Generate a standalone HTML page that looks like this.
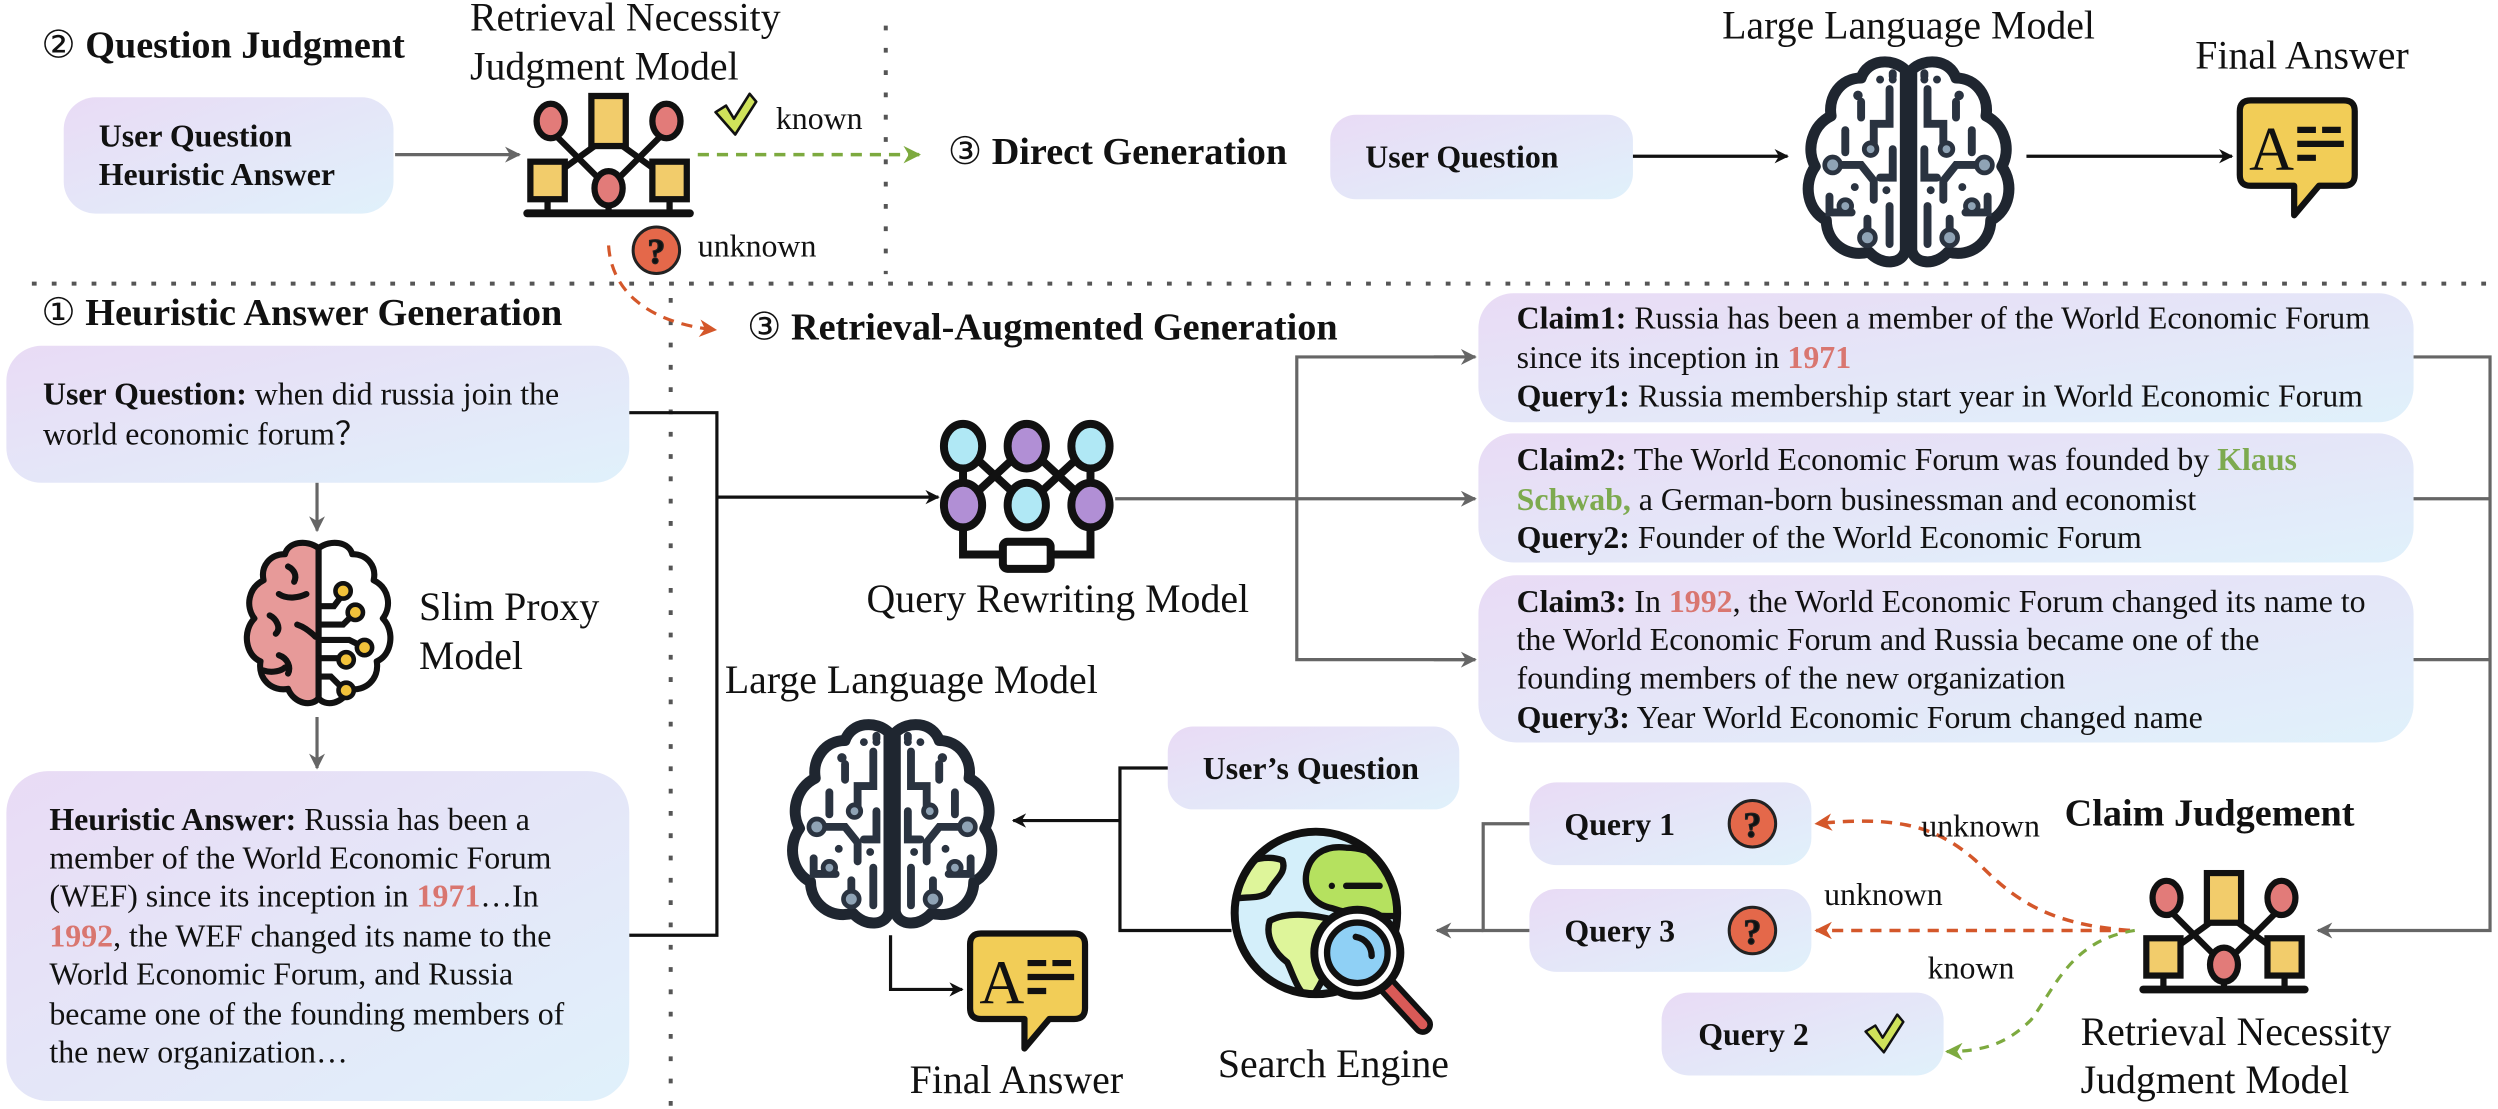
<!DOCTYPE html>
<html><head><meta charset="utf-8">
<style>
html,body{margin:0;padding:0;background:#fff;}
svg{display:block;}
text{font-family:"Liberation Serif","DejaVu Serif",serif;fill:#111;}
.b{font-weight:bold;}
.h{font-size:24px;font-weight:bold;}
.l{font-size:25px;}
.t{font-size:20px;}
.sym{font-family:"DejaVu Sans","Liberation Sans",sans-serif;}
</style></head>
<body>
<svg width="2498" height="1109" viewBox="0 0 1568 696" xmlns="http://www.w3.org/2000/svg">
<defs>
<linearGradient id="g" x1="0" y1="0" x2="1" y2="1">
<stop offset="0" stop-color="#e9dbf5"/><stop offset="1" stop-color="#e0f1fb"/>
</linearGradient>
<marker id="ab" viewBox="0 0 10 10" refX="9" refY="5" markerWidth="9" markerHeight="9" markerUnits="userSpaceOnUse" orient="auto"><path d="M0,0 L10,5 L0,10 L3,5 Z" fill="#111"/></marker>
<marker id="ag" viewBox="0 0 10 10" refX="9" refY="5" markerWidth="10" markerHeight="10" markerUnits="userSpaceOnUse" orient="auto"><path d="M0,0 L10,5 L0,10 L3,5 Z" fill="#666"/></marker>
<marker id="ao" viewBox="0 0 10 10" refX="9" refY="5" markerWidth="11" markerHeight="11" markerUnits="userSpaceOnUse" orient="auto"><path d="M0,0 L10,5 L0,10 L3,5 Z" fill="#d4572a"/></marker>
<marker id="agr" viewBox="0 0 10 10" refX="9" refY="5" markerWidth="11" markerHeight="11" markerUnits="userSpaceOnUse" orient="auto"><path d="M0,0 L10,5 L0,10 L3,5 Z" fill="#7daa3f"/></marker>

<symbol id="judge" viewBox="0 0 110 80">
<g stroke="#111" stroke-width="4" stroke-linecap="round">
<line x1="22" y1="28" x2="50" y2="56"/><line x1="88" y1="28" x2="60" y2="56"/>
<line x1="46" y1="34" x2="24" y2="50"/><line x1="64" y1="34" x2="86" y2="50"/>
<line x1="16" y1="66" x2="16" y2="77"/><line x1="55" y1="72" x2="55" y2="77"/><line x1="94" y1="66" x2="94" y2="77"/>
<line x1="3" y1="77" x2="107" y2="77" stroke-width="5"/>
<ellipse cx="18" cy="18" rx="9" ry="11" fill="#e27b79"/>
<rect x="44" y="2" width="22" height="32" fill="#f2cc6b"/>
<ellipse cx="92" cy="18" rx="9" ry="11" fill="#e27b79"/>
<rect x="5" y="44" width="22" height="24" fill="#f2cc6b"/>
<ellipse cx="55" cy="61" rx="9" ry="11" fill="#e27b79"/>
<rect x="83" y="44" width="22" height="24" fill="#f2cc6b"/>
</g></symbol>

<symbol id="rewrite" viewBox="0 0 110 100">
<g stroke="#111" stroke-width="5" stroke-linecap="round">
<line x1="15" y1="18" x2="15" y2="55"/><line x1="95" y1="18" x2="95" y2="55"/>
<line x1="15" y1="18" x2="55" y2="55"/><line x1="55" y1="18" x2="15" y2="55"/>
<line x1="55" y1="18" x2="95" y2="55"/><line x1="95" y1="18" x2="55" y2="55"/>
<path d="M15,68 V86 H40 M70,86 H95 V68" fill="none"/>
<ellipse cx="15" cy="18" rx="12" ry="14" fill="#b0e8f5"/>
<ellipse cx="55" cy="18" rx="12" ry="14" fill="#b18fd5"/>
<ellipse cx="95" cy="18" rx="12" ry="14" fill="#b0e8f5"/>
<ellipse cx="15" cy="55" rx="12" ry="14" fill="#b18fd5"/>
<ellipse cx="55" cy="55" rx="12" ry="14" fill="#b0e8f5"/>
<ellipse cx="95" cy="55" rx="12" ry="14" fill="#b18fd5"/>
<rect x="40" y="78" width="30" height="17" rx="3" fill="#fff"/>
</g></symbol>

<symbol id="brain" viewBox="0 0 140 136">
<g id="half">
<path d="M68,10 C60,2 44,3 40,15 C27,15 19,27 21,39 C9,45 5,60 11,71 C3,82 6,99 18,105 C18,119 31,129 45,125 C53,134 66,133 68,124 Z" fill="#fff" stroke="#1f2630" stroke-width="7" stroke-linejoin="round"/>
<g stroke="#2a3340" stroke-width="5" fill="none" stroke-linecap="round">
<path d="M58,22 V44 H48 V58"/><path d="M40,30 V40"/><path d="M30,48 V62"/>
<path d="M22,70 H40 L48,80 V92"/><path d="M60,60 V78 H52"/><path d="M20,90 V100 H34"/>
<path d="M58,96 V120"/><path d="M44,104 V116"/><path d="M60,14 V12"/>
</g>
<g fill="#8fa3b5" stroke="#2a3340" stroke-width="3">
<circle cx="22" cy="70" r="5"/><circle cx="30" cy="96" r="4"/><circle cx="44" cy="116" r="5"/><circle cx="46" cy="60" r="4"/>
</g>
<g fill="#2a3340"><circle cx="52" cy="16" r="2.5"/><circle cx="60" cy="16" r="2.5"/><circle cx="38" cy="26" r="3"/><circle cx="56" cy="86" r="2.5"/><circle cx="36" cy="84" r="2.5"/></g>
</g>
<use href="#half" transform="translate(140,0) scale(-1,1)"/>
</symbol>

<symbol id="pbrain" viewBox="0 0 100 112">
<path d="M50,6 C42,0 30,2 28,10 C18,10 12,18 14,27 C4,32 2,44 8,52 C0,60 2,76 12,80 C10,92 20,100 30,98 C34,108 46,110 50,104 Z" fill="#e79a99" stroke="#111" stroke-width="4" stroke-linejoin="round"/>
<path d="M50,6 C58,0 70,2 72,10 C82,10 88,18 86,27 C96,32 98,44 92,52 C100,60 98,76 88,80 C90,92 80,100 70,98 C66,108 54,110 50,104 Z" fill="#fff" stroke="#111" stroke-width="4" stroke-linejoin="round"/>
<line x1="50" y1="6" x2="50" y2="106" stroke="#111" stroke-width="3.5"/>
<g stroke="#111" stroke-width="4" fill="none" stroke-linecap="round">
<path d="M30,18 C34,20 36,24 34,28"/><path d="M24,36 C30,40 38,38 42,36"/><path d="M18,50 C22,52 26,58 22,62"/>
<path d="M36,56 C42,58 46,62 48,64"/><path d="M24,76 C30,78 32,84 30,88"/><path d="M14,86 C20,88 26,86 28,84"/>
<path d="M50,44 H60 L66,36"/><path d="M50,56 H66 L72,50"/><path d="M50,66 H70 L78,70"/><path d="M50,78 H66"/><path d="M50,90 H58 L66,98"/>
</g>
<g fill="#f2c23a" stroke="#111" stroke-width="3">
<circle cx="66" cy="34" r="5"/><circle cx="74" cy="48" r="5"/><circle cx="80" cy="71" r="5"/><circle cx="68" cy="79" r="5"/><circle cx="68" cy="99" r="5"/>
</g>
</symbol>

<symbol id="fa" viewBox="0 0 80 80">
<path d="M10,3 H70 Q77,3 77,10 V51 Q77,58 70,58 H54 L38,77 V58 H10 Q3,58 3,51 V10 Q3,3 10,3 Z" fill="#f2cd57" stroke="#111" stroke-width="4" stroke-linejoin="round"/>
<text x="9" y="48" font-family="Liberation Sans, sans-serif" font-size="40" fill="#111">A</text>
<g stroke="#111" stroke-width="4"><line x1="40" y1="22" x2="52" y2="22"/><line x1="56" y1="22" x2="68" y2="22"/><line x1="40" y1="31" x2="70" y2="31"/><line x1="40" y1="40" x2="52" y2="40"/></g>
</symbol>

<symbol id="chk" viewBox="0 0 34 34">
<path d="M2,15 L10,10 L16,20 L28,1 L33,7 L17,32 Z" fill="#cfe25a" stroke="#111" stroke-width="2" stroke-linejoin="round"/>
</symbol>
<symbol id="q" viewBox="0 0 34 34">
<circle cx="17" cy="17" r="15.5" fill="#e4684a" stroke="#222" stroke-width="2"/>
<text x="17" y="26" text-anchor="middle" font-family="DejaVu Sans, sans-serif" font-size="24" font-weight="bold" fill="#fff" stroke="#222" stroke-width="0.8">?</text>
</symbol>
<clipPath id="gc"><circle cx="826" cy="573" r="50"/></clipPath>
</defs>

<!-- dotted separators -->
<line x1="20" y1="178" x2="1568" y2="178" stroke="#555" stroke-width="2.5" stroke-dasharray="3 9.5"/>
<line x1="556" y1="16" x2="556" y2="172" stroke="#555" stroke-width="2.5" stroke-dasharray="3 11"/>
<line x1="421" y1="187" x2="421" y2="696" stroke="#555" stroke-width="2.5" stroke-dasharray="3 11"/>

<!-- top-left section -->
<text x="26" y="36" class="h"><tspan class="sym" font-weight="normal">②</tspan> Question Judgment</text>
<text x="295" y="19" class="l">Retrieval Necessity</text>
<text x="295" y="50" class="l">Judgment Model</text>
<rect x="40" y="61" width="207" height="73" rx="20" fill="url(#g)"/>
<text x="62" y="92" class="t b">User Question</text>
<text x="62" y="116" class="t b">Heuristic Answer</text>
<line x1="248" y1="97" x2="326" y2="97" stroke="#666" stroke-width="2" marker-end="url(#ag)"/>
<use href="#judge" x="328" y="58" width="108" height="79" preserveAspectRatio="none"/>
<use href="#chk" x="445" y="58" width="33" height="28" preserveAspectRatio="none"/>
<text x="487" y="81" class="t">known</text>
<line x1="438" y1="97" x2="577" y2="97" stroke="#7daa3f" stroke-width="2.2" stroke-dasharray="7 5" marker-end="url(#agr)"/>
<use href="#q" x="396" y="141" width="32" height="32"/>
<text x="438" y="161" class="t">unknown</text>
<path d="M382,154 C384,185 410,203 449,207" fill="none" stroke="#d4572a" stroke-width="2" stroke-dasharray="7 5" marker-end="url(#ao)"/>

<!-- direct generation -->
<text x="595" y="103" class="h"><tspan class="sym" font-weight="normal">③</tspan> Direct Generation</text>
<rect x="835" y="72" width="190" height="53" rx="16" fill="url(#g)"/>
<text x="857" y="105" class="t b">User Question</text>
<line x1="1025" y1="98" x2="1122" y2="98" stroke="#111" stroke-width="2" marker-end="url(#ab)"/>
<text x="1198" y="24" class="l" text-anchor="middle">Large Language Model</text>
<use href="#brain" x="1128" y="34" width="140" height="135" preserveAspectRatio="none"/>
<line x1="1272" y1="98" x2="1401" y2="98" stroke="#111" stroke-width="2" marker-end="url(#ab)"/>
<text x="1378" y="43" class="l">Final Answer</text>
<use href="#fa" x="1403" y="60" width="78" height="78" preserveAspectRatio="none"/>

<!-- heuristic answer generation -->
<text x="26" y="204" class="h"><tspan class="sym" font-weight="normal">①</tspan> Heuristic Answer Generation</text>
<rect x="4" y="217" width="391" height="86" rx="22" fill="url(#g)"/>
<text x="27" y="254" class="t"><tspan class="b">User Question:</tspan> when did russia join the</text>
<text x="27" y="279" class="t">world economic forum？</text>
<line x1="199" y1="303" x2="199" y2="333" stroke="#666" stroke-width="2" marker-end="url(#ag)"/>
<use href="#pbrain" x="152" y="337" width="96" height="110" preserveAspectRatio="none"/>
<text x="263" y="389" class="l">Slim Proxy</text>
<text x="263" y="420" class="l">Model</text>
<line x1="199" y1="450" x2="199" y2="482" stroke="#666" stroke-width="2" marker-end="url(#ag)"/>
<rect x="4" y="484" width="391" height="207" rx="26" fill="url(#g)"/>
<g class="t">
<text x="31" y="521" class="t"><tspan class="b">Heuristic Answer:</tspan> Russia has been a</text>
<text x="31" y="545" class="t">member of the World Economic Forum</text>
<text x="31" y="569" class="t">(WEF) since its inception in <tspan class="b" fill="#d97670">1971</tspan>…In</text>
<text x="31" y="594" class="t"><tspan class="b" fill="#d97670">1992</tspan>, the WEF changed its name to the</text>
<text x="31" y="618" class="t">World Economic Forum, and Russia</text>
<text x="31" y="643" class="t">became one of the founding members of</text>
<text x="31" y="667" class="t">the new organization…</text>
</g>

<!-- RAG -->
<text x="469" y="213" class="h"><tspan class="sym" font-weight="normal">③</tspan> Retrieval-Augmented Generation</text>
<path d="M395,259 H450 V587 H395" fill="none" stroke="#111" stroke-width="2"/>
<line x1="450" y1="312" x2="589" y2="312" stroke="#111" stroke-width="2" marker-end="url(#ab)"/>
<use href="#rewrite" x="589" y="262" width="111" height="100" preserveAspectRatio="none"/>
<text x="664" y="384" class="l" text-anchor="middle">Query Rewriting Model</text>
<path d="M700,313 H926" fill="none" stroke="#666" stroke-width="2" marker-end="url(#ag)"/>
<path d="M926,224 H814 V414 H926" fill="none" stroke="#666" stroke-width="2"/>
<line x1="900" y1="224" x2="926" y2="224" stroke="#666" stroke-width="2" marker-end="url(#ag)"/>
<line x1="900" y1="414" x2="926" y2="414" stroke="#666" stroke-width="2" marker-end="url(#ag)"/>

<rect x="928" y="184" width="587" height="81" rx="22" fill="url(#g)"/>
<text x="952" y="206" class="t"><tspan class="b">Claim1:</tspan> Russia has been a member of the World Economic Forum</text>
<text x="952" y="231" class="t">since its inception in <tspan class="b" fill="#d97670">1971</tspan></text>
<text x="952" y="255" class="t"><tspan class="b">Query1:</tspan> Russia membership start year in World Economic Forum</text>
<rect x="928" y="272" width="587" height="81" rx="22" fill="url(#g)"/>
<text x="952" y="295" class="t"><tspan class="b">Claim2:</tspan> The World Economic Forum was founded by <tspan class="b" fill="#7daa4f">Klaus</tspan></text>
<text x="952" y="320" class="t"><tspan class="b" fill="#7daa4f">Schwab,</tspan> a German-born businessman and economist</text>
<text x="952" y="344" class="t"><tspan class="b">Query2:</tspan> Founder of the World Economic Forum</text>
<rect x="928" y="361" width="587" height="105" rx="24" fill="url(#g)"/>
<text x="952" y="384" class="t"><tspan class="b">Claim3:</tspan> In <tspan class="b" fill="#d97670">1992</tspan>, the World Economic Forum changed its name to</text>
<text x="952" y="408" class="t">the World Economic Forum and Russia became one of the</text>
<text x="952" y="432" class="t">founding members of the new organization</text>
<text x="952" y="457" class="t"><tspan class="b">Query3:</tspan> Year World Economic Forum changed name</text>

<path d="M1515,224 H1563 V584 H1455" fill="none" stroke="#666" stroke-width="2" marker-end="url(#ag)"/>
<path d="M1515,313 H1563 M1515,414 H1563" fill="none" stroke="#666" stroke-width="2"/>

<text x="1296" y="518" class="h">Claim Judgement</text>
<use href="#judge" x="1341" y="546" width="110" height="78" preserveAspectRatio="none"/>
<text x="1306" y="656" class="l">Retrieval Necessity</text>
<text x="1306" y="686" class="l">Judgment Model</text>

<rect x="960" y="491" width="177" height="52" rx="17" fill="url(#g)"/>
<text x="982" y="524" class="t b">Query 1</text>
<use href="#q" x="1084" y="501" width="32" height="32"/>
<rect x="960" y="558" width="177" height="52" rx="17" fill="url(#g)"/>
<text x="982" y="591" class="t b">Query 3</text>
<use href="#q" x="1084" y="568" width="32" height="32"/>
<rect x="1043" y="623" width="177" height="52" rx="17" fill="url(#g)"/>
<text x="1066" y="656" class="t b">Query 2</text>
<use href="#chk" x="1167" y="636" width="31" height="26" preserveAspectRatio="none"/>

<path d="M1337,584 C1280,580 1260,560 1240,540 C1215,518 1190,512 1140,517" fill="none" stroke="#d4572a" stroke-width="2.2" stroke-dasharray="7 5" marker-end="url(#ao)"/>
<line x1="1337" y1="584" x2="1140" y2="584" stroke="#d4572a" stroke-width="2.2" stroke-dasharray="7 5" marker-end="url(#ao)"/>
<path d="M1340,584 C1300,590 1290,620 1275,640 C1260,655 1245,660 1222,660" fill="none" stroke="#7daa3f" stroke-width="2" stroke-dasharray="6 5" marker-end="url(#agr)"/>
<text x="1206" y="525" class="t">unknown</text>
<text x="1145" y="568" class="t">unknown</text>
<text x="1210" y="614" class="t">known</text>

<path d="M960,517 H931 V584 H960" fill="none" stroke="#666" stroke-width="2"/>
<line x1="931" y1="584" x2="902" y2="584" stroke="#666" stroke-width="2" marker-end="url(#ag)"/>

<!-- search engine -->
<circle cx="826" cy="573" r="51" fill="#d4effa"/>
<g clip-path="url(#gc)" stroke="#111" stroke-width="4" stroke-linejoin="round">
<path d="M770,545 C785,540 795,536 805,540 C808,548 800,552 796,560 C790,565 780,562 770,565 Z" fill="#def59a"/>
<path d="M820,548 C822,538 830,530 845,532 C860,532 875,540 880,560 L880,575 C865,575 850,575 836,570 C826,568 818,560 820,548 Z" fill="#b5e15f"/>
<path d="M797,578 C808,572 822,574 836,577 C846,580 848,592 840,600 C832,605 832,615 824,625 C816,628 812,612 808,604 C800,598 794,588 797,578 Z" fill="#def59a"/>
<path d="M770,605 C780,603 788,608 788,620 L770,630 Z" fill="#b5e15f"/>
</g>
<circle cx="826" cy="573" r="51" fill="none" stroke="#111" stroke-width="5"/>
<circle cx="836" cy="556" r="2" fill="#111"/><line x1="845" y1="556" x2="866" y2="556" stroke="#111" stroke-width="4" stroke-linecap="round"/>
<line x1="870" y1="618" x2="893" y2="643" stroke="#111" stroke-width="13" stroke-linecap="round"/>
<line x1="870" y1="618" x2="893" y2="643" stroke="#d95a57" stroke-width="6" stroke-linecap="round"/>
<circle cx="852" cy="598" r="27" fill="#fff" stroke="#111" stroke-width="5"/>
<circle cx="852" cy="598" r="19" fill="#8fd0f5" stroke="#111" stroke-width="4"/>
<path d="M851,588 C857,589 861,594 861,600" fill="none" stroke="#111" stroke-width="4" stroke-linecap="round"/>
<text x="837" y="676" class="l" text-anchor="middle">Search Engine</text>

<!-- bottom LLM -->
<text x="455" y="435" class="l">Large Language Model</text>
<use href="#brain" x="490" y="450" width="140" height="134" preserveAspectRatio="none"/>
<rect x="733" y="456" width="183" height="52" rx="16" fill="url(#g)"/>
<text x="755" y="489" class="t b">User’s Question</text>
<path d="M733,482 H703 V584 H773" fill="none" stroke="#111" stroke-width="2"/>
<line x1="703" y1="515" x2="636" y2="515" stroke="#111" stroke-width="2" marker-end="url(#ab)"/>
<path d="M559,587 V621 H604" fill="none" stroke="#111" stroke-width="2" marker-end="url(#ab)"/>
<use href="#fa" x="606" y="583" width="78" height="78" preserveAspectRatio="none"/>
<text x="638" y="686" class="l" text-anchor="middle">Final Answer</text>
</svg>
</body></html>
